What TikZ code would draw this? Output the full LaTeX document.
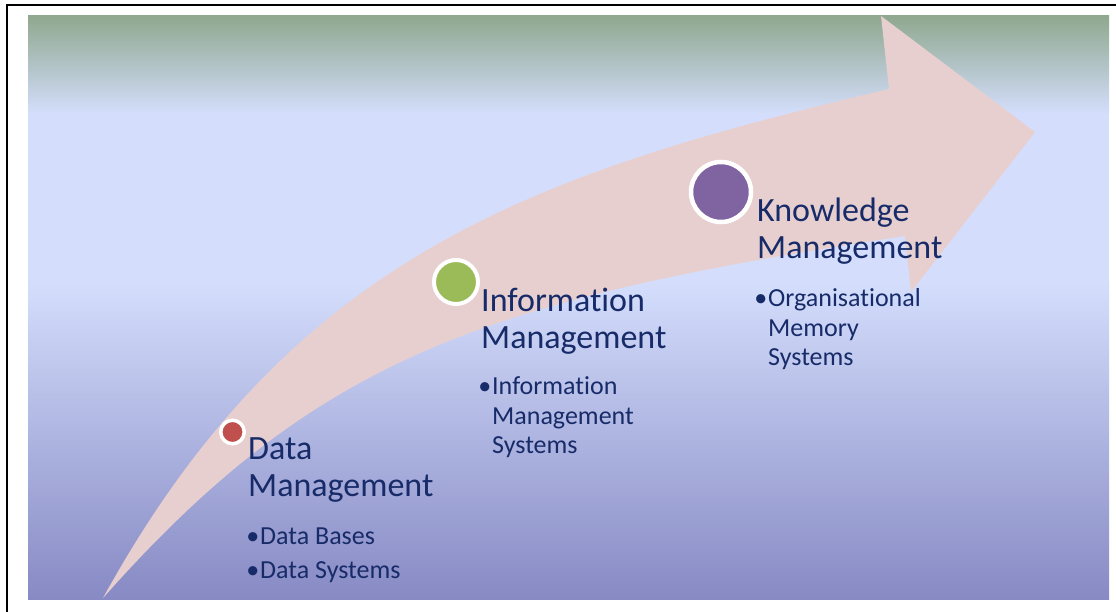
\documentclass[tikz,border=0pt]{standalone}
\usepackage{fontspec}
\setmainfont{Carlito}[Ligatures=NoCommon]
\usepackage{xcolor}
\usepackage{tikz}
\definecolor{navy}{HTML}{172B69}
\definecolor{sage}{HTML}{8FA88F}
\definecolor{pale}{HTML}{D4DEFC}
\definecolor{dusk}{HTML}{878AC4}
\definecolor{arrowpink}{HTML}{E7CFCF}
\definecolor{dmred}{HTML}{C0504D}
\definecolor{imgreen}{HTML}{9BBB59}
\definecolor{kmpurple}{HTML}{8064A2}
\tikzstyle{stage}=[circle,draw=white,line width=4pt,inner sep=0pt]
\tikzstyle{heading}=[anchor=base west,inner sep=0pt,align=left,text=navy,font=\fontsize{34}{37}\selectfont]
\tikzstyle{items}=[anchor=base west,inner sep=0pt,align=left,text=navy,font=\fontsize{26}{29.5}\selectfont]
\newcommand{\itembullet}{\llap{•\hspace{1pt}}}
\begin{document}
\begin{tikzpicture}[x=1pt,y=-1pt]
            \useasboundingbox (0,0) rectangle (1116,612);
            \fill[white] (0,0) rectangle (1116,612);
            % backdrop
            \shade[top color=sage,bottom color=pale] (28,16) rectangle (1109,114);
            \fill[pale] (28,113) rectangle (1109,282);
            \shade[top color=pale,bottom color=dusk] (28,281) rectangle (1109,599);
            \draw[line width=1.8pt] (7,612) -- (7,5) -- (1116,5);
            % the big arrow
            \fill[arrowpink] (103,598) .. controls (292,255) and (533,173) .. (889,89)
                -- (881,16) -- (1035,132) -- (911,292) -- (905,236)
                .. controls (491,299) and (320,353) .. (103,598) -- cycle;
            % stages (base anchor = baseline of the last line)
            \node [stage,fill=dmred,line width=3.5pt,minimum size=23.5pt] (dm) at (232.5,432) {};
            \node [stage,fill=imgreen,minimum size=44pt] (im) at (456,282) {};
            \node [stage,fill=kmpurple,line width=4.5pt,minimum size=60pt] (km) at (721,192) {};
            \node [heading] (dm-head) at (248,496.5) {Data\\Management};
            \node [items] (dm-list) at (260,578.5) {\itembullet Data Bases\\[4.5pt]\itembullet Data Systems};
            \node [heading] (im-head) at (481,348.5) {Information\\Management};
            \node [items] (im-list) at (492,453.5) {\itembullet Information\\Management\\Systems};
            \node [heading] (km-head) at (757,258.5) {Knowledge\\Management};
            \node [items] (km-list) at (768,365.8) {\itembullet Organisational\\Memory\\Systems};
        \end{tikzpicture}
\end{document}
